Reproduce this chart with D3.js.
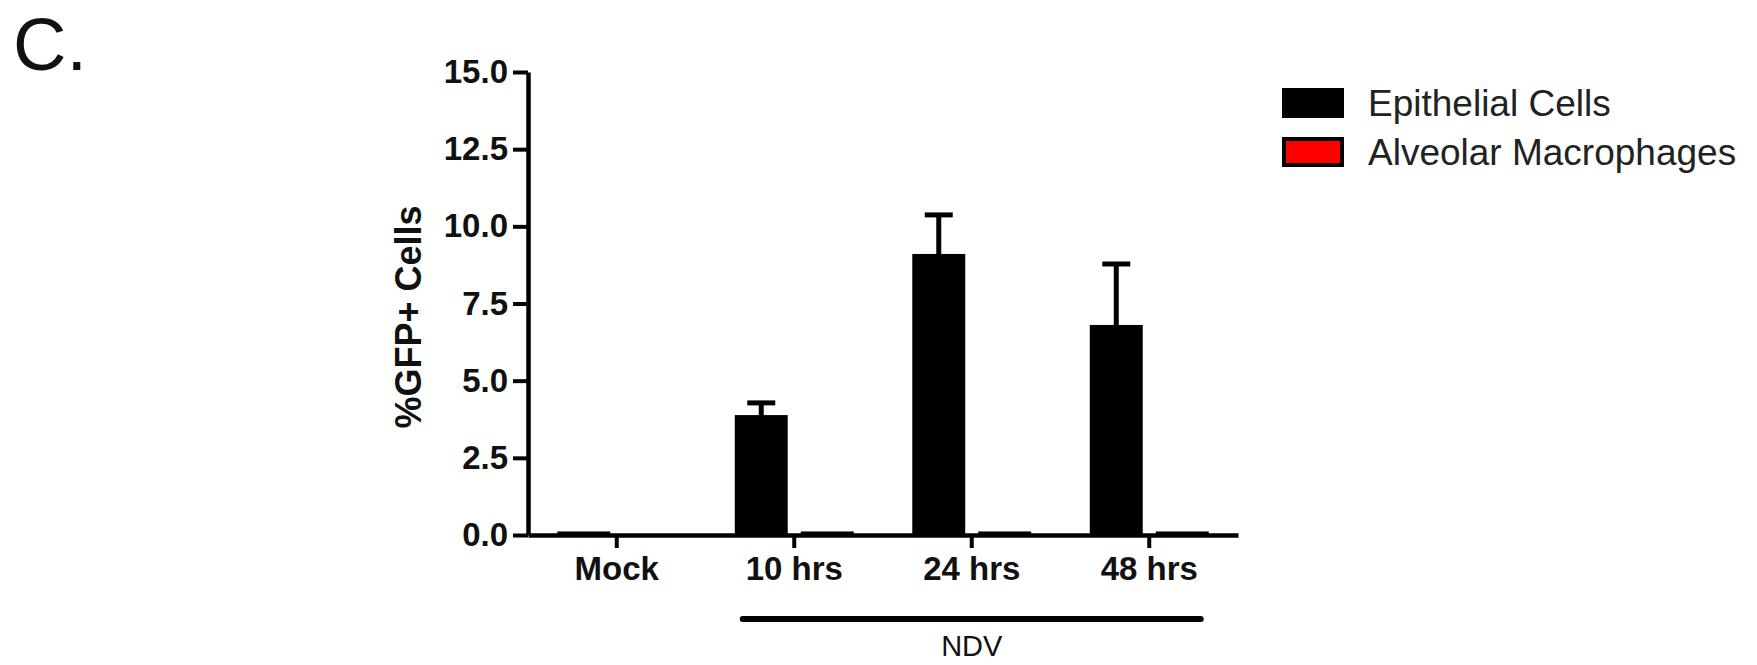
<!DOCTYPE html>
<html>
<head>
<meta charset="utf-8">
<script src="https://cdn.jsdelivr.net/npm/d3@7"></script>
<style>
  html, body { margin: 0; padding: 0; background: #fff; }
  svg { display: block; }
  text { font-family: "Liberation Sans", Arial, Helvetica, sans-serif; }
</style>
</head>
<body>
<svg id="chart" width="1757" height="665"></svg>
<script>
// Categories, series and values
const categories = ["Mock", "10 hrs", "24 hrs", "48 hrs"];
const seriesNames = ["Epithelial Cells", "Alveolar Macrophages"];
const seriesColors = ["#000000", "#ff0000"];
const epithelialMean = [0.05, 3.82, 9.04, 6.74];
const epithelialSem = [0, 0.46, 1.33, 2.04];
const macrophageMean = [0, 0.05, 0.05, 0.05];
const macrophageSem = [0, 0, 0, 0];
const yTicks = [0, 2.5, 5, 7.5, 10, 12.5, 15];
const treatmentGroup = ["10 hrs", "24 hrs", "48 hrs"];
const treatmentLabel = "NDV";
const panelLabel = "C.";
const yTitle = "%GFP+ Cells";

const means = [epithelialMean, macrophageMean];
const sems = [epithelialSem, macrophageSem];
const rows = [];
categories.forEach((c, i) => {
  seriesNames.forEach((s, j) => {
    rows.push({ category: c, series: s, idx: j, mean: means[j][i], sem: sems[j][i] });
  });
});

const svg = d3.select("#chart");
const plot = { left: 528, right: 1238, top: 72, bottom: 535 };

const x0 = d3.scaleBand().domain(categories).range([plot.left, plot.right]).padding(0);
const x1 = d3.scaleBand().domain(seriesNames).range([0, x0.bandwidth()])
  .paddingInner(0.258).paddingOuter(0.474);
const y = d3.scaleLinear().domain([0, 15]).range([plot.bottom, plot.top]);
const color = d3.scaleOrdinal().domain(seriesNames).range(seriesColors);

// Panel label
svg.append("text")
  .attr("x", 13).attr("y", 70)
  .attr("font-size", 74)
  .attr("fill", "#111")
  .text(panelLabel);

// Bars
const g = svg.append("g");
g.selectAll("rect.bar")
  .data(rows.filter(d => d.mean > 0))
  .join("rect")
  .attr("class", "bar")
  .attr("x", d => x0(d.category) + x1(d.series))
  .attr("y", d => y(d.mean))
  .attr("width", x1.bandwidth())
  .attr("height", d => y(0) - y(d.mean))
  .attr("fill", d => color(d.series))
  .attr("stroke", "#000")
  .attr("stroke-width", 4)
  .attr("stroke-linejoin", "miter");

// Upper error bars
const errRows = rows.filter(d => d.sem > 0);
const capHalf = 14;
g.selectAll("line.err")
  .data(errRows)
  .join("line")
  .attr("class", "err")
  .attr("x1", d => x0(d.category) + x1(d.series) + x1.bandwidth() / 2)
  .attr("x2", d => x0(d.category) + x1(d.series) + x1.bandwidth() / 2)
  .attr("y1", d => y(d.mean))
  .attr("y2", d => y(d.mean + d.sem))
  .attr("stroke", "#000").attr("stroke-width", 5);
g.selectAll("line.cap")
  .data(errRows)
  .join("line")
  .attr("class", "cap")
  .attr("x1", d => x0(d.category) + x1(d.series) + x1.bandwidth() / 2 - capHalf)
  .attr("x2", d => x0(d.category) + x1(d.series) + x1.bandwidth() / 2 + capHalf)
  .attr("y1", d => y(d.mean + d.sem))
  .attr("y2", d => y(d.mean + d.sem))
  .attr("stroke", "#000").attr("stroke-width", 5);

// Y axis
const yAxis = svg.append("g")
  .attr("transform", `translate(${plot.left},0)`)
  .call(d3.axisLeft(y).tickValues(yTicks).tickFormat(d3.format(".1f"))
    .tickSize(15).tickSizeOuter(0).tickPadding(5));
yAxis.select(".domain").attr("stroke", "#000").attr("stroke-width", 4.5);
yAxis.selectAll(".tick line").attr("stroke", "#000").attr("stroke-width", 4);
yAxis.selectAll(".tick text")
  .attr("font-family", "'Liberation Sans', Arial, sans-serif")
  .attr("font-size", 33).attr("font-weight", "bold").attr("fill", "#111");

// X axis
const xAxis = svg.append("g")
  .attr("transform", `translate(0,${plot.bottom})`)
  .call(d3.axisBottom(x0).tickSize(13).tickSizeOuter(0).tickPadding(9));
xAxis.select(".domain").attr("stroke", "#000").attr("stroke-width", 4.5);
xAxis.selectAll(".tick line").attr("stroke", "#000").attr("stroke-width", 4);
xAxis.selectAll(".tick text")
  .attr("font-family", "'Liberation Sans', Arial, sans-serif")
  .attr("font-size", 33).attr("font-weight", "bold").attr("fill", "#111");

// Y axis title
svg.append("text")
  .attr("transform", `translate(421,317) rotate(-90)`)
  .attr("text-anchor", "middle")
  .attr("font-size", 36).attr("font-weight", "bold").attr("fill", "#111")
  .text(yTitle);

// Treatment bracket under the infected time points
const first = treatmentGroup[0], last = treatmentGroup[treatmentGroup.length - 1];
const bx1 = x0(first) + x1(seriesNames[0]) + 6;
const bx2 = x0(last) + x1(seriesNames[1]) + x1.bandwidth() - 6;
svg.append("line")
  .attr("x1", bx1).attr("x2", bx2)
  .attr("y1", 619).attr("y2", 619)
  .attr("stroke", "#000").attr("stroke-width", 6).attr("stroke-linecap", "round");
svg.append("text")
  .attr("x", (bx1 + bx2) / 2).attr("y", 656)
  .attr("text-anchor", "middle")
  .attr("font-size", 29).attr("fill", "#111")
  .text(treatmentLabel);

// Legend
const legend = svg.append("g").attr("transform", "translate(1284,90)");
const item = legend.selectAll("g.item")
  .data(seriesNames)
  .join("g")
  .attr("class", "item")
  .attr("transform", (d, i) => `translate(0,${i * 49})`);
item.append("rect")
  .attr("width", 58).attr("height", 26)
  .attr("fill", d => color(d))
  .attr("stroke", "#000").attr("stroke-width", 4);
item.append("text")
  .attr("x", 84).attr("y", 13)
  .attr("dy", "0.35em")
  .attr("font-size", 37).attr("fill", "#222")
  .text(d => d);
</script>
</body>
</html>
